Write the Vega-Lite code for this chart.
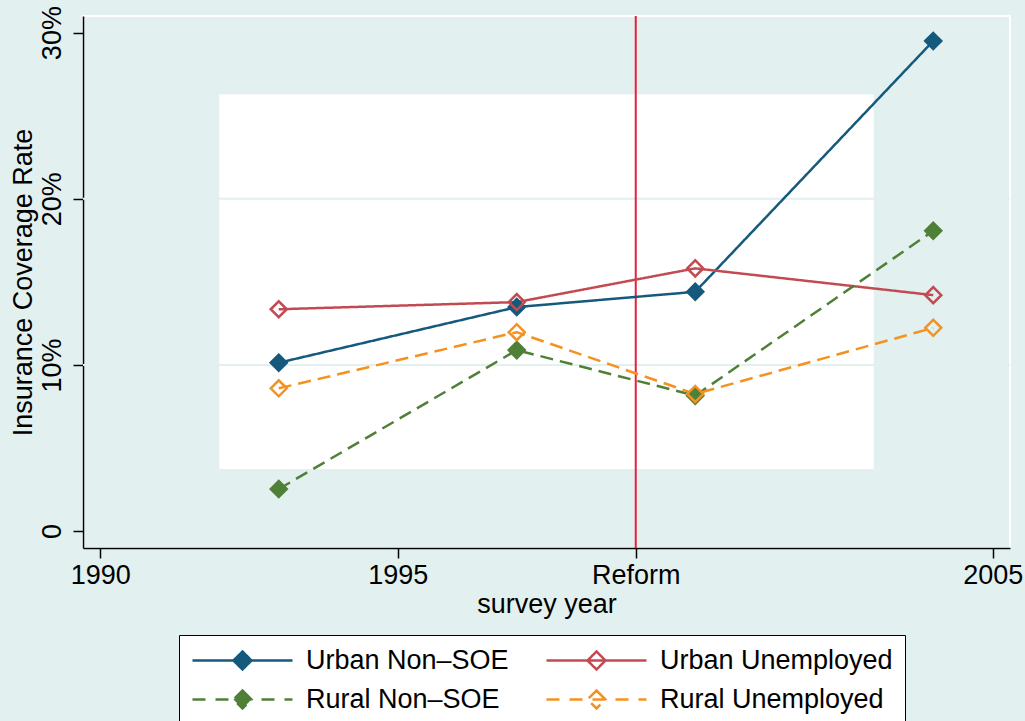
{
  "$schema": "https://vega.github.io/schema/vega-lite/v6.json",
  "width": 927,
  "height": 532,
  "autosize": {"type": "none"},
  "padding": {"left": 83, "top": 16, "right": 15, "bottom": 173},
  "background": "#e2f0f0",
  "config": {
    "view": {"fill": "#e2f0f0", "stroke": "#ffffff", "strokeWidth": 2},
    "font": "Liberation Sans"
  },
  "datasets": {
    "series": [
      {"series": "Urban Non–SOE", "year": 1993, "rate": 10.13},
      {"series": "Urban Non–SOE", "year": 1997, "rate": 13.48},
      {"series": "Urban Non–SOE", "year": 2000, "rate": 14.40},
      {"series": "Urban Non–SOE", "year": 2004, "rate": 29.50},
      {"series": "Urban Unemployed", "year": 1993, "rate": 13.35},
      {"series": "Urban Unemployed", "year": 1997, "rate": 13.78},
      {"series": "Urban Unemployed", "year": 2000, "rate": 15.81},
      {"series": "Urban Unemployed", "year": 2004, "rate": 14.20},
      {"series": "Rural Non–SOE", "year": 1993, "rate": 2.53},
      {"series": "Rural Non–SOE", "year": 1997, "rate": 10.89},
      {"series": "Rural Non–SOE", "year": 2000, "rate": 8.15},
      {"series": "Rural Non–SOE", "year": 2004, "rate": 18.07},
      {"series": "Rural Unemployed", "year": 1993, "rate": 8.59},
      {"series": "Rural Unemployed", "year": 1997, "rate": 11.97},
      {"series": "Rural Unemployed", "year": 2000, "rate": 8.25},
      {"series": "Rural Unemployed", "year": 2004, "rate": 12.23}
    ],
    "box": [{"x1": 1992, "x2": 2003, "y1": 3.73, "y2": 26.29}],
    "grid": [{"y": 10}, {"y": 20}],
    "reform": [{"year": 1999}]
  },
  "layer": [
    {
      "data": {"name": "box"},
      "mark": {"type": "rect", "fill": "#ffffff"},
      "encoding": {
        "x": {
          "field": "x1", "type": "quantitative", "title": "survey year",
          "scale": {"domain": [1989.71, 2005.29], "nice": false, "zero": false},
          "axis": {
            "values": [1990, 1995, 1999, 2005],
            "labelExpr": "datum.value == 1999 ? 'Reform' : format(datum.value, 'd')",
            "labelFlush": false, "labelOverlap": false,
            "labelFontSize": 27, "labelColor": "#000000", "labelFont": "Liberation Sans",
            "labelBaseline": "alphabetic", "labelPadding": 25,
            "tickSize": 10, "tickColor": "#000000", "tickWidth": 1.5,
            "domainColor": "#000000", "domainWidth": 1.5, "grid": false,
            "titleFontSize": 27, "titleFontWeight": "normal", "titleColor": "#000000", "titleFont": "Liberation Sans",
            "titleBaseline": "alphabetic", "titleAlign": "center", "titleX": 463.5, "titleY": 64
          }
        },
        "x2": {"field": "x2"},
        "y": {
          "field": "y1", "type": "quantitative", "title": "Insurance Coverage Rate",
          "scale": {"domain": [-1.02, 31.0], "nice": false, "zero": false},
          "axis": {
            "values": [0, 10, 20, 30],
            "labelExpr": "datum.value == 0 ? '0' : datum.value + '%'",
            "labelFlush": false, "labelOverlap": false,
            "labelAngle": -90, "labelAlign": "center", "labelBaseline": "alphabetic", "labelPadding": 13,
            "labelFontSize": 27, "labelColor": "#000000", "labelFont": "Liberation Sans",
            "tickSize": 10, "tickColor": "#000000", "tickWidth": 1.5,
            "domainColor": "#000000", "domainWidth": 1.5, "grid": false,
            "titleFontSize": 27, "titleFontWeight": "normal", "titleColor": "#000000", "titleFont": "Liberation Sans",
            "titleAngle": -90, "titleAlign": "center", "titleBaseline": "alphabetic", "titleX": -52, "titleY": 266
          }
        },
        "y2": {"field": "y2"}
      }
    },
    {
      "data": {"name": "grid"},
      "mark": {"type": "rule", "color": "#e2f0f0", "strokeWidth": 2},
      "encoding": {
        "y": {"field": "y", "type": "quantitative", "title": "Insurance Coverage Rate"}
      }
    },
    {
      "data": {"name": "reform"},
      "mark": {"type": "rule", "color": "#e8203c", "strokeWidth": 2},
      "encoding": {
        "x": {"field": "year", "type": "quantitative", "title": "survey year"}
      }
    },
    {
      "data": {"name": "series"},
      "mark": {"type": "line", "strokeWidth": 2.5},
      "encoding": {
        "x": {"field": "year", "type": "quantitative", "title": "survey year"},
        "y": {"field": "rate", "type": "quantitative", "title": "Insurance Coverage Rate"},
        "color": {
          "field": "series", "type": "nominal",
          "scale": {
            "domain": ["Urban Non–SOE", "Urban Unemployed", "Rural Non–SOE", "Rural Unemployed"],
            "range": ["#155a7c", "#c24b53", "#4f8038", "#f5921f"]
          },
          "legend": {
            "title": null,
            "orient": "none", "legendX": 96, "legendY": 619,
            "columns": 2, "direction": "horizontal",
            "symbolSize": 10000, "clipHeight": 27,
            "rowPadding": 11, "columnPadding": 36, "padding": 12,
            "strokeColor": "#000000", "fillColor": "#ffffff",
            "labelFontSize": 27, "labelFont": "Liberation Sans", "labelColor": "#000000",
            "labelOffset": 12, "labelLimit": 400, "symbolStrokeWidth": 2.5,
            "encode": {
              "symbols": {
                "update": {
                  "shape": {"signal": "(datum.value == 'Rural Non–SOE' || datum.value == 'Rural Unemployed') ? 'M-1,0L-0.7,0M-0.54,0L-0.24,0M-0.08,0L0.22,0M0.38,0L0.68,0M0.84,0L1,0M0,-0.18L0.18,0L0,0.18L-0.18,0Z' : 'M-1,0L1,0M0,-0.18L0.18,0L0,0.18L-0.18,0Z'"},
                  "fill": {"signal": "datum.value == 'Urban Non–SOE' ? '#155a7c' : (datum.value == 'Rural Non–SOE' ? '#4f8038' : 'transparent')"},
                  "strokeDash": {"value": [1, 0]},
                  "opacity": {"value": 1}
                }
              }
            }
          }
        },
        "strokeDash": {
          "field": "series", "type": "nominal",
          "scale": {
            "domain": ["Urban Non–SOE", "Urban Unemployed", "Rural Non–SOE", "Rural Unemployed"],
            "range": [[1, 0], [1, 0], [13, 7], [13, 7]]
          },
          "legend": null
        }
      }
    },
    {
      "data": {"name": "series"},
      "mark": {"type": "point", "shape": "diamond", "filled": false, "size": 256, "strokeWidth": 2.5, "opacity": 1},
      "encoding": {
        "x": {"field": "year", "type": "quantitative", "title": "survey year"},
        "y": {"field": "rate", "type": "quantitative", "title": "Insurance Coverage Rate"},
        "color": {"field": "series", "type": "nominal"},
        "fill": {
          "field": "series", "type": "nominal",
          "scale": {
            "domain": ["Urban Non–SOE", "Urban Unemployed", "Rural Non–SOE", "Rural Unemployed"],
            "range": ["#155a7c", "transparent", "#4f8038", "transparent"]
          },
          "legend": null
        }
      }
    }
  ]
}
